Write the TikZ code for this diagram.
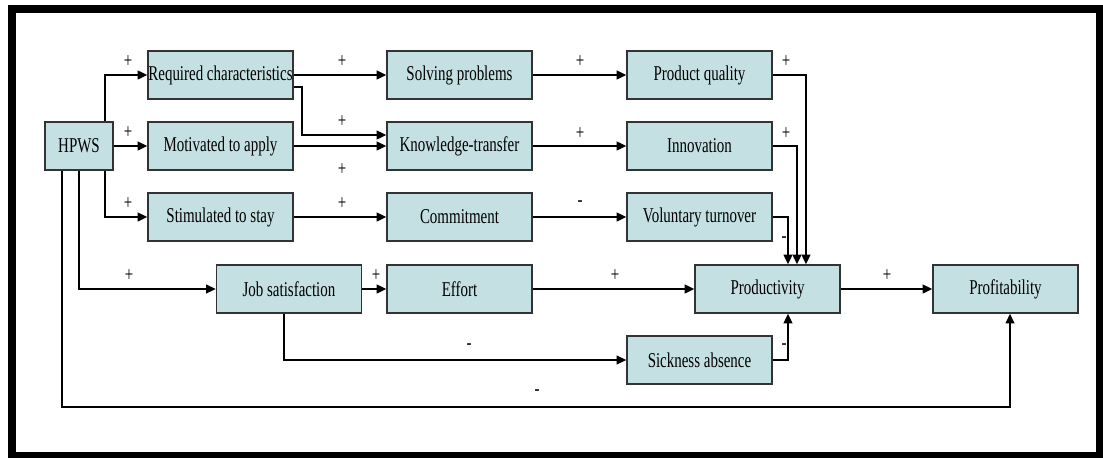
\documentclass[tikz,border=0pt]{standalone}
\usepackage{fontspec}
\setmainfont{Liberation Serif}[FakeStretch=0.71]
\usetikzlibrary{arrows.meta}
\definecolor{boxfill}{RGB}{197,224,226}
\begin{document}
\begin{tikzpicture}[x=0.02cm,y=-0.02cm,
	boxnode/.style={rectangle,draw=black!80,fill=boxfill,line width=0.8pt,minimum width=2.9cm,minimum height=0.96cm,inner sep=0pt,font=\fontsize{12}{14}\selectfont},
	signnode/.style={inner sep=0pt,font=\fontsize{12}{14}\selectfont},
	link/.style={line width=1pt,-{Triangle[length=5.5pt,width=5pt]}},
	thinlink/.style={line width=0.7pt,-{Triangle[length=5.5pt,width=5pt]}}
]
\useasboundingbox (0,0) rectangle (1103,457);

% Rahmen
\draw[line width=4.5pt] (12,9) rectangle (1100,456);

% Knoten
\node[boxnode,minimum width=1.36cm] (1) at (79,146) {HPWS};
\node[boxnode] (2) at (220.5,75) {Required characteristics};
\node[boxnode] (3) at (220.5,146) {Motivated to apply};
\node[boxnode] (4) at (220.5,217) {Stimulated to stay};
\node[boxnode] (5) at (459.5,75) {Solving problems};
\node[boxnode] (6) at (459.5,146) {Knowledge-transfer};
\node[boxnode] (7) at (459.5,217) {Commitment};
\node[boxnode] (8) at (699.5,75) {Product quality};
\node[boxnode] (9) at (699.5,146) {Innovation};
\node[boxnode] (10) at (699.5,217) {Voluntary turnover};
\node[boxnode] (11) at (289,289) {Job satisfaction};
\node[boxnode] (12) at (459.5,289) {Effort};
\node[boxnode] (13) at (767.5,289) {Productivity};
\node[boxnode] (14) at (1005.5,289) {Profitability};
\node[boxnode] (15) at (699.5,360) {Sickness absence};
\coordinate (c1) at (0,407);

% Pfeile
\draw[link] ([xshift=0.52cm]1.north) |- (2);
\draw[link] (1) -- (3);
\draw[link] ([xshift=0.52cm]1.south) |- (4);
\draw[thinlink] (1.south) |- (11);
\draw[thinlink] ([xshift=-0.34cm]1.south) |- ([xshift=0.09cm]14.south |- c1) -- ([xshift=0.09cm]14.south);

\draw[link] (2) -- (5);
\draw[link] ([yshift=-0.24cm]2.east) -- ++(8,0) |- ([yshift=0.22cm]6.west);
\draw[link] (3) -- (6);
\draw[link] (4) -- (7);

\draw[link] (5) -- (8);
\draw[link] (6) -- (9);
\draw[link] (7) -- (10);

\draw[link] (8) -| ([xshift=0.77cm]13.north);
\draw[link] (9) -| ([xshift=0.59cm]13.north);
\draw[link] (10) -| ([xshift=0.41cm]13.north);

\draw[link] (11) -- (12);
\draw[link] (12) -- (13);
\draw[thinlink] ([xshift=-0.1cm]11.south) |- (15);
\draw[link] (15) -| ([xshift=0.41cm]13.south);
\draw[link] (13) -- (14);

% Vorzeichen
\node[signnode] (s1) at (128,62) {+};
\node[signnode] (s2) at (128,133) {+};
\node[signnode] (s3) at (128,204) {+};
\node[signnode] (s4) at (129,276) {+};
\node[signnode] (s5) at (342,62) {+};
\node[signnode] (s6) at (342,122) {+};
\node[signnode] (s7) at (342,170) {+};
\node[signnode] (s8) at (342,204) {+};
\node[signnode] (s9) at (580,62) {+};
\node[signnode] (s10) at (580,134) {+};
\node[signnode] (s11) at (580,204) {-};
\node[signnode] (s12) at (786,62) {+};
\node[signnode] (s13) at (786,134) {+};
\node[signnode] (s14) at (784,240) {-};
\node[signnode] (s15) at (376,276) {+};
\node[signnode] (s16) at (615,276) {+};
\node[signnode] (s17) at (887,276) {+};
\node[signnode] (s18) at (469,347) {-};
\node[signnode] (s19) at (784,347) {-};
\node[signnode] (s20) at (537,393) {-};

\end{tikzpicture}
\end{document}
